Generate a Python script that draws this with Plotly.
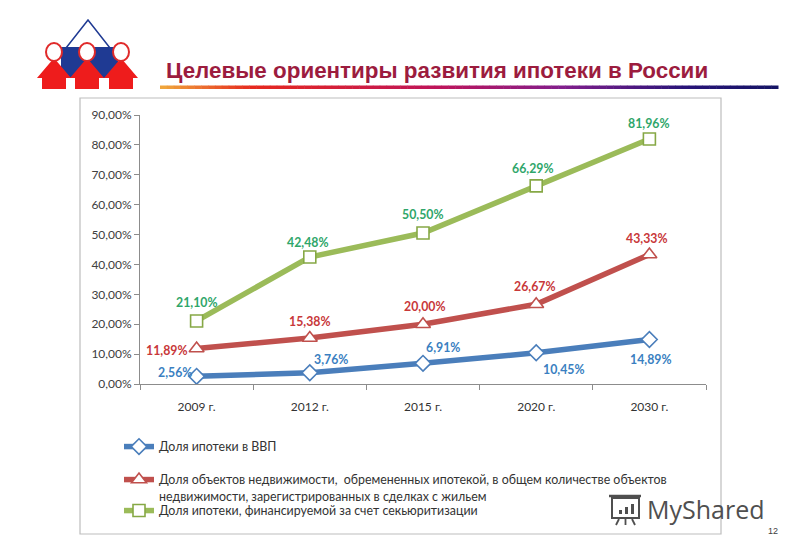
import plotly.graph_objects as go

# ---------------- data ----------------
categories = ["2009 г.", "2012 г.", "2015 г.", "2020 г.", "2030 г."]
series_names = [
    "Доля ипотеки в ВВП",
    "Доля объектов недвижимости,  обремененных ипотекой, в общем количестве объектов<br>недвижимости, зарегистрированных в сделках с жильем",
    "Доля ипотеки, финансируемой за счет секьюритизации",
]
gdp_share = [2.56, 3.76, 6.91, 10.45, 14.89]
encumbered_share = [11.89, 15.38, 20.00, 26.67, 43.33]
securitized_share = [21.10, 42.48, 50.50, 66.29, 81.96]
title_text = "Целевые ориентиры развития ипотеки в России"

# ---------------- style ----------------
W, H = 800, 554
BODY = 8  # browser default body margin offsets the figure
ML, MR, MT, MB = 140 - BODY, 94 + BODY, 115 - BODY, 170 + BODY
PW, PH = W - ML - MR, H - MT - MB


def px(x):  # page pixel -> paper x
    return (x - BODY - ML) / PW


def py(y):  # page pixel -> paper y
    return (H - MB - (y - BODY)) / PH


line_colors = ["#4A7EBB", "#C0504D", "#9BBB59"]
label_colors = ["#3A7FC1", "#C8383A", "#2FA66A"]
marker_line = ["#4A7EBB", "#C0504D", "#86A845"]
symbols = ["diamond", "triangle-up", "square"]
marker_sizes = [12, 13, 12]
legend_ids = ["legend", "legend2", "legend3"]
legend_tops = [432, 465, 496]
# label offsets in pixels (dx, dy-down)
label_offsets = [
    [(-22, -4), (21, -13), (20, -16), (27, 17), (1, 20)],
    [(-30, 2), (0, -17), (1, -18), (-2, -18), (-3, -16)],
    [(0, -18), (-2, -15), (-1, -19), (-4, -17), (-1, -16)],
]
all_series = [gdp_share, encumbered_share, securitized_share]

FONT = "Lato"

fig = go.Figure()
for i, vals in enumerate(all_series):
    fig.add_trace(go.Scatter(
        x=categories, y=vals, name=series_names[i], mode="lines+markers",
        legend=legend_ids[i],
        line=dict(color=line_colors[i], width=5.5),
        marker=dict(symbol=symbols[i], size=marker_sizes[i], color="white",
                    line=dict(color=marker_line[i], width=1.6)),
    ))

annotations = []
for i, vals in enumerate(all_series):
    for j, v in enumerate(vals):
        dx, dy = label_offsets[i][j]
        annotations.append(dict(
            x=categories[j], y=v, xref="x", yref="y",
            text="<b>" + f"{v:.2f}".replace(".", ",") + "%</b>",
            showarrow=False, xshift=dx, yshift=-dy,
            font=dict(family=FONT, size=12.3, color=label_colors[i]),
        ))

# title
annotations.append(dict(
    x=px(164), y=py(70), xref="paper", yref="paper", xanchor="left", yanchor="middle",
    text="<b>" + title_text + "</b>", showarrow=False,
    font=dict(family="Liberation Sans", size=22.4, color="#9C1C3E"),
))
# watermark
annotations.append(dict(
    x=px(645), y=py(509), xref="paper", yref="paper", xanchor="left", yanchor="middle",
    text="MyShared", showarrow=False,
    font=dict(family="Open Sans", size=25, color="#4F4F4F"),
))
annotations.append(dict(
    x=px(773), y=py(531), xref="paper", yref="paper", xanchor="center", yanchor="middle",
    text="12", showarrow=False,
    font=dict(family="Liberation Sans", size=9, color="#404040"),
))

shapes = []
# chart box
shapes.append(dict(type="rect", xref="paper", yref="paper",
                   x0=px(80), x1=px(721), y0=py(98), y1=py(534),
                   line=dict(color="#BDBDBD", width=1.2), layer="below"))


# gradient underline
def lerp(c1, c2, t):
    return tuple(int(round(a + (b - a) * t)) for a, b in zip(c1, c2))


stops = [(0.0, (240, 170, 60)), (0.15, (230, 40, 30)), (0.45, (190, 20, 90)),
         (0.65, (130, 30, 140)), (0.85, (40, 20, 120)), (1.0, (20, 20, 100))]
N = 90
x_start, x_end = 160, 778
for k in range(N):
    t = (k + 0.5) / N
    for s in range(len(stops) - 1):
        if stops[s][0] <= t <= stops[s + 1][0]:
            tt = (t - stops[s][0]) / (stops[s + 1][0] - stops[s][0])
            c = lerp(stops[s][1], stops[s + 1][1], tt)
            break
    xa = x_start + (x_end - x_start) * k / N
    xb = x_start + (x_end - x_start) * (k + 1) / N + 0.5
    shapes.append(dict(type="rect", xref="paper", yref="paper",
                       x0=px(xa), x1=px(xb), y0=py(85.5), y1=py(89),
                       line=dict(width=0), fillcolor="rgb(%d,%d,%d)" % c))


# logo
def path(points):
    return "M " + " L ".join(f"{px(a):.5f},{py(b):.5f}" for a, b in points) + " Z"


shapes.append(dict(type="path", xref="paper", yref="paper",
                   path=path([(61, 47), (118, 47), (118, 78), (61, 78)]),
                   fillcolor="#1F3A93", line=dict(width=0)))
for cx in (54, 87, 121):
    shapes.append(dict(type="path", xref="paper", yref="paper",
                       path=path([(cx, 58), (cx + 17, 78), (cx + 12, 78), (cx + 12, 89),
                                  (cx - 12, 89), (cx - 12, 78), (cx - 17, 78)]),
                       fillcolor="#EE1C1C", line=dict(width=0)))
shapes.append(dict(type="path", xref="paper", yref="paper",
                   path="M %.5f,%.5f L %.5f,%.5f L %.5f,%.5f" % (px(66), py(48), px(88), py(20), px(110), py(48)),
                   line=dict(color="#1F3A93", width=1.5)))
for cx in (54, 87, 121):
    shapes.append(dict(type="circle", xref="paper", yref="paper",
                       x0=px(cx - 8), x1=px(cx + 8), y0=py(61), y1=py(43),
                       fillcolor="white", line=dict(color="#E02A2A", width=2)))

# watermark icon
gray = "#4F4F4F"
shapes.append(dict(type="rect", xref="paper", yref="paper",
                   x0=px(612), x1=px(639), y0=py(498), y1=py(518),
                   line=dict(color=gray, width=2), fillcolor="rgba(0,0,0,0)"))
shapes.append(dict(type="line", xref="paper", yref="paper",
                   x0=px(609), x1=px(641), y0=py(496), y1=py(496),
                   line=dict(color=gray, width=2.5)))
for bx, bh in ((619, 4), (625, 7), (631, 10)):
    shapes.append(dict(type="rect", xref="paper", yref="paper",
                       x0=px(bx), x1=px(bx + 3), y0=py(514), y1=py(514 - bh),
                       line=dict(width=0), fillcolor=gray))
for lx0, lx1 in ((619, 616), (625.5, 625.5), (632, 635)):
    shapes.append(dict(type="line", xref="paper", yref="paper",
                       x0=px(lx0), x1=px(lx1), y0=py(519), y1=py(525),
                       line=dict(color=gray, width=1.8)))

legend_style = dict(
    xanchor="left", yanchor="top", orientation="v", valign="top",
    font=dict(family=FONT, size=12.4, color="#333333"),
    bgcolor="rgba(0,0,0,0)", itemwidth=30,
)
legend_layout = {
    lid: dict(legend_style, x=px(119), y=py(top))
    for lid, top in zip(legend_ids, legend_tops)
}

fig.update_layout(
    width=W, height=H,
    margin=dict(l=ML, r=MR, t=MT, b=MB, pad=0),
    paper_bgcolor="white", plot_bgcolor="white",
    separators=", ",
    font=dict(family=FONT, size=12, color="#404040"),
    showlegend=True,
    xaxis=dict(
        type="category", showgrid=False, zeroline=False,
        showline=True, linecolor="#8C8C8C", linewidth=1,
        ticks="outside", tickson="boundaries", ticklen=5, tickcolor="#8C8C8C",
        tickfont=dict(family=FONT, size=12, color="#333333"),
        ticklabelstandoff=12,
        range=[-0.5, 4.5], fixedrange=True,
    ),
    yaxis=dict(
        range=[0, 90], dtick=10, tickformat=".2f", ticksuffix="%",
        showgrid=False, zeroline=False, showline=True, linecolor="#8C8C8C", linewidth=1,
        ticks="outside", ticklen=5, tickcolor="#8C8C8C",
        tickfont=dict(family=FONT, size=12, color="#404040"),
    ),
    annotations=annotations,
    shapes=shapes,
    **legend_layout,
)

fig.write_html("out.html")
